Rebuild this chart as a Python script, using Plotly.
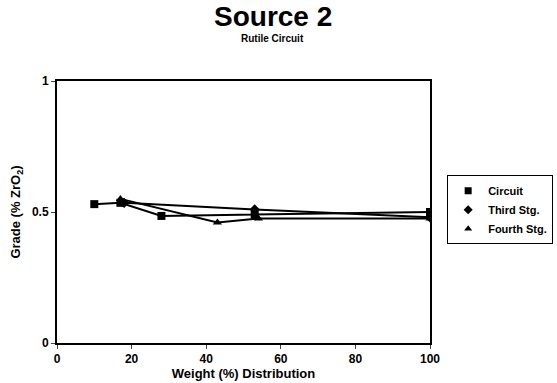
import plotly.graph_objects as go

circuit_x = [10, 17, 28, 53, 100]
circuit_y = [0.53, 0.535, 0.485, 0.49, 0.50]
third_x = [18, 53, 100]
third_y = [0.535, 0.51, 0.48]
fourth_x = [17, 43, 54, 100]
fourth_y = [0.55, 0.46, 0.475, 0.475]

series = [
    ("Circuit", circuit_x, circuit_y, "square"),
    ("Third Stg.", third_x, third_y, "diamond"),
    ("Fourth Stg.", fourth_x, fourth_y, "triangle-up"),
]

x_ticks = [0, 20, 40, 60, 80, 100]
y_ticks = [0, 0.5, 1]

FONT = "Arial, Liberation Sans, sans-serif"

fig = go.Figure()
for name, xs, ys, sym in series:
    fig.add_trace(go.Scatter(x=xs, y=ys, name=name, mode="lines+markers",
                             legendgroup=name, showlegend=False,
                             line=dict(color="black", width=2),
                             marker=dict(symbol=sym, size=8, color="black")))
for name, xs, ys, sym in series:
    fig.add_trace(go.Scatter(x=[None], y=[None], name=name, mode="markers",
                             legendgroup=name, showlegend=True,
                             marker=dict(symbol=sym, size=7, color="black")))

fig.update_layout(
    width=557, height=383,
    margin=dict(l=57, r=127, t=81, b=40, autoexpand=False),
    paper_bgcolor="white", plot_bgcolor="white",
    font=dict(family=FONT, color="black", size=11, weight="bold"),
    showlegend=True,
    legend=dict(x=1.046, y=0.64, xanchor="left", yanchor="top",
                bordercolor="black", borderwidth=1,
                font=dict(size=11, weight="bold"),
                itemwidth=30, tracegroupgap=0),
    xaxis=dict(range=[0, 100], tickvals=x_ticks, ticks="outside", ticklen=4,
               showline=True, linecolor="black", linewidth=2, mirror=True,
               showgrid=False, zeroline=False, automargin=False,
               tickfont=dict(size=12, weight="bold"),
               title=dict(text="Weight (%) Distribution", standoff=2,
                          font=dict(size=13, weight="bold"))),
    yaxis=dict(range=[0, 1], tickvals=y_ticks, ticktext=["0", "0.5", "1"],
               ticks="outside", ticklen=4,
               showline=True, linecolor="black", linewidth=2, mirror=True,
               showgrid=False, zeroline=False, automargin=False,
               tickfont=dict(size=12, weight="bold"),
               title=dict(text="Grade (% ZrO<sub>2</sub>)", standoff=8,
                          font=dict(size=13, weight="bold"))),
)

fig.add_annotation(text="Source 2", xref="paper", yref="paper", x=0.579, y=1.0,
                   yshift=82, showarrow=False, yanchor="top",
                   font=dict(size=28, weight="bold", family=FONT))
fig.add_annotation(text="Rutile Circuit", xref="paper", yref="paper", x=0.579, y=1.0,
                   yshift=50, showarrow=False, yanchor="top",
                   font=dict(size=10, weight="bold", family=FONT))

fig.write_html("out.html")
